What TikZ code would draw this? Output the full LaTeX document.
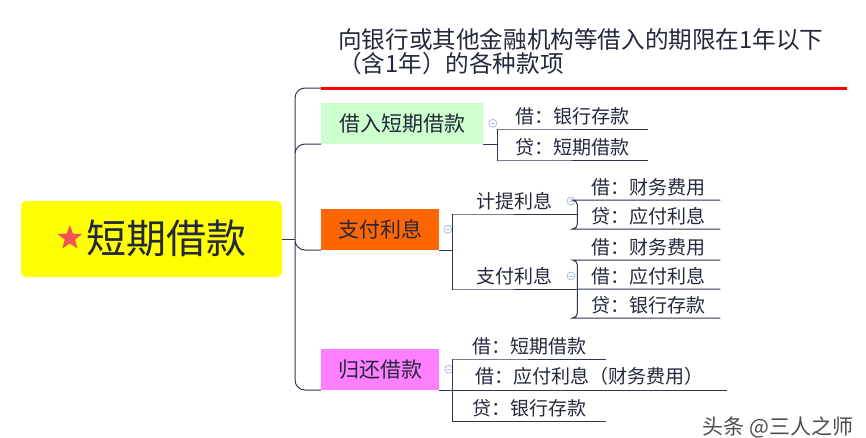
\documentclass[tikz,border=0pt]{standalone}
\usepackage{fontspec}
\setmainfont{Noto Sans CJK SC}
\usetikzlibrary{positioning, shapes.geometric}
\definecolor{ink}{RGB}{35,40,60}
\definecolor{wire}{RGB}{45,55,80}
\definecolor{rootfill}{RGB}{255,255,0}
\definecolor{borrowfill}{RGB}{204,255,204}
\definecolor{payfill}{RGB}{255,102,0}
\definecolor{repayfill}{RGB}{255,128,255}
\definecolor{starred}{RGB}{240,84,84}
\definecolor{foldblue}{RGB}{170,186,226}
\tikzset{
  x=1pt, y=-1pt,
  link/.style={draw=wire, line width=1pt},
  rootbox/.style={rectangle, rounded corners=5pt, fill=rootfill, minimum width=261pt, minimum height=76pt},
  fav/.style={star, star points=5, star point ratio=2.4, fill=starred, minimum size=26pt, inner sep=0pt},
  titlebox/.style={anchor=south west, align=left, text width=492pt, inner xsep=17pt, inner ysep=13pt,
    text=ink, font=\fontsize{23.6pt}{24pt}\selectfont},
  topic/.style={rectangle, anchor=south west, minimum height=41pt, text=ink, font=\fontsize{21pt}{24pt}\selectfont},
  leaf/.style={anchor=south west, inner xsep=0pt, inner ysep=4pt, text=ink, font=\fontsize{19pt}{22pt}\selectfont},
  fold/.style={circle, draw=foldblue, line width=0.8pt, minimum size=8pt, inner sep=0pt,
    path picture={\draw[foldblue, line width=0.8pt] ([xshift=-2pt]path picture bounding box.center) -- ([xshift=2pt]path picture bounding box.center);}},
  wmark/.style={text=black!70, font=\fontsize{21pt}{24pt}\selectfont},
}

\begin{document}
\begin{tikzpicture}
  \useasboundingbox (0,0) rectangle (866,437);

  % root
  \node[rootbox] (root) at (151.5,239) {};
  \node[text=ink, font=\fontsize{40pt}{44pt}\selectfont] (rootlabel) at (166,238) {短期借款};
  \node[fav, left=5pt of rootlabel] (star) {};
  \coordinate (j) at (295,239);

  % first level
  \node[titlebox] (title) at (321,88) {向银行或其他金融机构等借入的期限在1年以下\\（含1年）的各种款项};
  \node[topic, fill=borrowfill, minimum width=162pt] (borrow) at (321,144) {借入短期借款};
  \node[topic, fill=payfill, minimum width=118pt] (pay) at (321,250) {支付利息};
  \node[topic, fill=repayfill, minimum width=118pt] (repay) at (321,390) {归还借款};

  \node[fold, right=5pt of borrow] (fb) {};
  \node[fold, right=4pt of pay] (fp) {};
  \node[fold, right=5pt of repay] (fr) {};

  % second level
  \node[leaf, minimum width=151pt] (b1) at (497,129) {借：银行存款};
  \node[leaf, minimum width=151pt] (b2) at (497,160) {贷：短期借款};

  \node[leaf, minimum width=125pt] (accr) at (452,214) {计提利息};
  \node[leaf, minimum width=125pt] (paid) at (452,289) {支付利息};
  \node[fold, left=2pt of accr.east] (fa) {};
  \node[fold, left=2pt of paid.east] (fd) {};

  \node[leaf, minimum width=143pt] (a1) at (577,200) {借：财务费用};
  \node[leaf, minimum width=143pt] (a2) at (577,229) {贷：应付利息};
  \node[leaf, minimum width=143pt] (d1) at (577,260) {借：财务费用};
  \node[leaf, minimum width=143pt] (d2) at (577,289) {借：应付利息};
  \node[leaf, minimum width=143pt] (d3) at (577,318) {贷：银行存款};

  \node[leaf, minimum width=154pt] (r1) at (452,359) {借：短期借款};
  \node[leaf, minimum width=275pt] (r2) at (452,390) {借：应付利息（财务费用）};
  \node[leaf, minimum width=154pt] (r3) at (452,421) {贷：银行存款};

  \node[wmark] (wm) at (778,427) {头条 @三人之师};

  % connectors
  \draw[link] (root.east) -- (j);
  \draw[link, rounded corners=10pt] (j) |- (title.south west)
        (j) |- (borrow.south west)
        (j) |- (pay.south west)
        (j) |- (repay.south west);
  \draw[red, line width=3pt] (title.south west) -- (title.south east);

  \draw[link] (borrow.south east) -- ++(14,0) |- (b1.south west) -- (b1.south east)
        (borrow.south east) -- ++(14,0) |- (b2.south west) -- (b2.south east);

  \draw[link] (pay.south east) -- ++(13,0) |- (accr.south west) -- (accr.south east)
        (pay.south east) -- ++(13,0) |- (paid.south west) -- (paid.south east);

  \draw[link, rounded corners=5pt] (accr.south east) |- (a1.south west) -- (a1.south east)
        (accr.south east) |- (a2.south west) -- (a2.south east);
  \draw[link, rounded corners=5pt] (paid.south east) |- (d1.south west) -- (d1.south east)
        (paid.south east) -- (d2.south west) -- (d2.south east)
        (paid.south east) |- (d3.south west) -- (d3.south east);

  \draw[link] (repay.south east) -- ++(13,0) |- (r1.south west) -- (r1.south east)
        (repay.south east) -- ++(13,0) |- (r2.south west) -- (r2.south east)
        (repay.south east) -- ++(13,0) |- (r3.south west) -- (r3.south east);
\end{tikzpicture}
\end{document}
